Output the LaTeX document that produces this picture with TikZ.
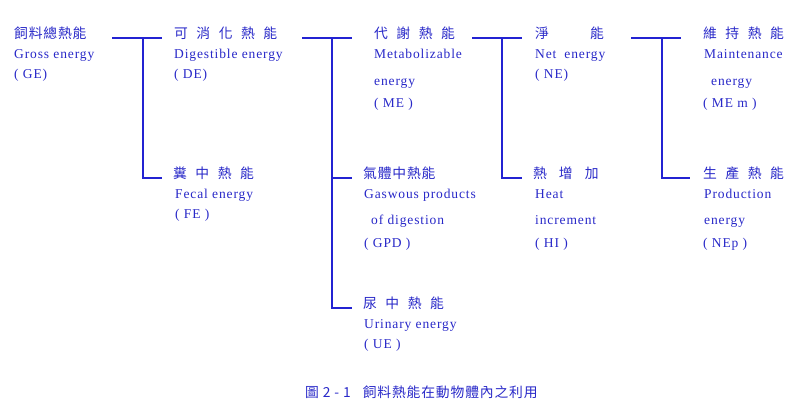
\documentclass[tikz,border=0pt]{standalone}
\usepackage{fontspec}
\setmainfont{Liberation Serif}[LetterSpace=6.5]
\newfontfamily\cjk{Noto Sans CJK TC}[LetterSpace=6]
\definecolor{txtblue}{RGB}{40,40,200}
\definecolor{lineblue}{RGB}{35,35,210}
\newcommand\gp{\hspace{8.5pt}}
\begin{document}
\begin{tikzpicture}[x=1pt,y=-1pt,
  lbl/.style={anchor=base west,inner sep=0pt,text=txtblue,font=\fontsize{13.5}{15}\selectfont},
  zh/.style={anchor=base west,inner sep=0pt,text=txtblue,font=\cjk\fontsize{13.8}{15}\selectfont},
  conn/.style={draw=lineblue,line width=1.3pt}]
\useasboundingbox (0,0) rectangle (798,418);
% column 1
\node[zh]  (ge1) at (14,38.5) {飼料總熱能};
\node[lbl] (ge2) at (14,58) {Gross energy};
\node[lbl] (ge3) at (14,78) {( GE)};
% column 2
\node[zh]  (de1) at (174,38.5) {可\gp 消\gp 化\gp 熱\gp 能};
\node[lbl] (de2) at (174,58) {Digestible energy};
\node[lbl] (de3) at (174,78) {( DE)};
\node[zh]  (fe1) at (173,178.5) {糞\gp 中\gp 熱\gp 能};
\node[lbl] (fe2) at (175,198) {Fecal energy};
\node[lbl] (fe3) at (175,218) {( FE )};
% column 3
\node[zh]  (me1) at (374,38.5) {代\gp 謝\gp 熱\gp 能};
\node[lbl] (me2) at (374,58) {Metabolizable};
\node[lbl] (me3) at (374,85) {energy};
\node[lbl] (me4) at (374,107) {( ME )};
\node[zh]  (gp1) at (363,178.5) {氣體中熱能};
\node[lbl] (gp2) at (364,198) {Gaswous products};
\node[lbl] (gp3) at (371,224) {of digestion};
\node[lbl] (gp4) at (364,247) {( GPD )};
\node[zh]  (ue1) at (363,308.5) {尿\gp 中\gp 熱\gp 能};
\node[lbl] (ue2) at (364,328) {Urinary energy};
\node[lbl] (ue3) at (364,348) {( UE )};
% column 4
\node[zh]  (ne1) at (535,38.5) {淨\hspace{41pt}能};
\node[lbl] (ne2) at (535,58) {Net\hspace{8pt}energy};
\node[lbl] (ne3) at (535,78) {( NE)};
\node[zh]  (hi1) at (533,178.5) {熱\hspace{12pt}增\hspace{12pt}加};
\node[lbl] (hi2) at (535,198) {Heat};
\node[lbl] (hi3) at (535,224) {increment};
\node[lbl] (hi4) at (535,247) {( HI )};
% column 5
\node[zh]  (mm1) at (703,38.5) {維\gp 持\gp 熱\gp 能};
\node[lbl] (mm2) at (704,58) {Maintenance};
\node[lbl] (mm3) at (711,85) {energy};
\node[lbl] (mm4) at (703,107) {( ME m )};
\node[zh]  (np1) at (703,178.5) {生\gp 產\gp 熱\gp 能};
\node[lbl] (np2) at (704,198) {Production};
\node[lbl] (np3) at (704,224) {energy};
\node[lbl] (np4) at (703,247) {( NEp )};
% caption
\node[zh] (cap) at (305,397) {圖 2 - 1\hspace{12pt}飼料熱能在動物體內之利用};
% connector coordinates
\coordinate (a0) at (112,38);  \coordinate (a1) at (162,38);
\coordinate (aj) at (143,38);  \coordinate (ab) at (143,178); \coordinate (ae) at (162,178);
\coordinate (b0) at (302,38);  \coordinate (b1) at (352,38);
\coordinate (bj) at (332,38);  \coordinate (bm) at (332,178); \coordinate (bme) at (352,178);
\coordinate (bb) at (332,308); \coordinate (bbe) at (352,308);
\coordinate (c0) at (472,38);  \coordinate (c1) at (522,38);
\coordinate (cj) at (502,38);  \coordinate (cb) at (502,178); \coordinate (ce) at (522,178);
\coordinate (d0) at (631,38);  \coordinate (d1) at (681,38);
\coordinate (dj) at (662,38);  \coordinate (db) at (662,178); \coordinate (de) at (690,178);
\draw[conn] (a0) -- (a1);
\draw[conn] (aj) -- (ab) -- (ae);
\draw[conn] (b0) -- (b1);
\draw[conn] (bj) -- (bb) -- (bbe);
\draw[conn] (bm) -- (bme);
\draw[conn] (c0) -- (c1);
\draw[conn] (cj) -- (cb) -- (ce);
\draw[conn] (d0) -- (d1);
\draw[conn] (dj) -- (db) -- (de);
\end{tikzpicture}
\end{document}
